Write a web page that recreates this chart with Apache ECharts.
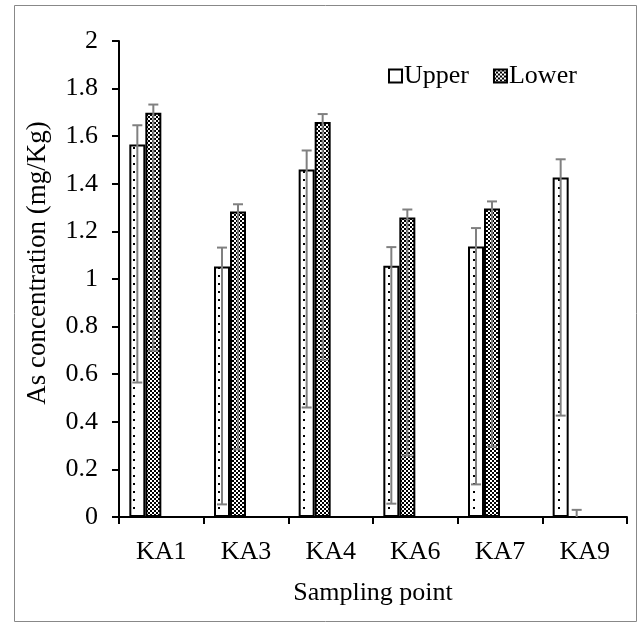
<!DOCTYPE html>
<html>
<head>
<meta charset="utf-8">
<script src="https://cdn.jsdelivr.net/npm/echarts@6/dist/echarts.min.js"></script>
<style>
  html, body { margin: 0; padding: 0; background: #fff; }
  #chart { width: 642px; height: 625px; }
</style>
</head>
<body>
<div id="chart"></div>
<script>
const categories = ['KA1', 'KA3', 'KA4', 'KA6', 'KA7', 'KA9']
const upperValues = [1.565, 1.053, 1.46, 1.056, 1.137, 1.426]
const upperErrHigh = [1.646, 1.132, 1.54, 1.134, 1.214, 1.503]
const upperErrLow = [0.565, 0.053, 0.46, 0.056, 0.137, 0.426]
const lowerValues = [1.699, 1.284, 1.66, 1.258, 1.296, 0]
const lowerErrHigh = [1.733, 1.314, 1.693, 1.292, 1.326, 0.03]
const lowerErrLow = [0.699, 0.284, 0.66, 0.258, 0.296, 0]
const yTickLabels = ['0', '0.2', '0.4', '0.6', '0.8', '1', '1.2', '1.4', '1.6', '1.8', '2']

const FONT = 'Liberation Serif, Times New Roman, serif'
const BAR_W = 16
const ERR_COLOR = '#808080'

// dotted fill (upper) and checker fill (lower)
function makePattern(w, h, draw) {
  const c = document.createElement('canvas')
  c.width = w
  c.height = h
  const ctx = c.getContext('2d')
  ctx.fillStyle = '#fff'
  ctx.fillRect(0, 0, w, h)
  ctx.fillStyle = '#000'
  draw(ctx)
  return { image: c, repeat: 'repeat' }
}
// tile about one category wide so each bar gets a single dot column
const dotFill = makePattern(85, 8, ctx => ctx.fillRect(48, 3, 2, 2))
const checkFill = makePattern(4, 4, ctx => {
  ctx.fillRect(0, 0, 2, 2)
  ctx.fillRect(2, 2, 2, 2)
})

function errData(low, high) {
  return categories.map((c, i) => [i, low[i], high[i]])
}

function errRenderer(offset) {
  return (params, api) => {
    const idx = api.value(0)
    const lo = api.coord([idx, api.value(1)])
    const hi = api.coord([idx, api.value(2)])
    const x = lo[0] + offset
    const style = { stroke: ERR_COLOR, lineWidth: 2 }
    const children = [
      { type: 'line', shape: { x1: x, y1: lo[1], x2: x, y2: hi[1] }, style },
      { type: 'line', shape: { x1: x - 5, y1: hi[1], x2: x + 5, y2: hi[1] }, style }
    ]
    if (api.value(1) > 0) {
      children.push({ type: 'line', shape: { x1: x - 5, y1: lo[1], x2: x + 5, y2: lo[1] }, style })
    }
    return { type: 'group', children }
  }
}

const chart = echarts.init(document.getElementById('chart'), null, { renderer: 'canvas' })

chart.setOption({
  animation: false,
  backgroundColor: '#fff',
  graphic: [{
    type: 'rect',
    shape: { x: 14.5, y: 5.5, width: 622, height: 616 },
    style: { fill: 'none', stroke: '#888', lineWidth: 1 },
    silent: true,
    z: -1
  }],
  grid: {
    left: 119,
    right: 15,
    top: 41,
    bottom: 108,
    containLabel: false
  },
  legend: {
    left: 383,
    top: 58,
    itemWidth: 13,
    itemHeight: 13,
    itemGap: 24,
    icon: 'rect',
    data: ['Upper', 'Lower'],
    textStyle: { fontFamily: FONT, fontSize: 26, color: '#000', padding: [0, 0, 0, -3] }
  },
  xAxis: {
    type: 'category',
    data: categories,
    name: 'Sampling point',
    nameLocation: 'middle',
    nameGap: 63,
    nameTextStyle: { fontFamily: FONT, fontSize: 26, color: '#000' },
    axisLine: { lineStyle: { color: '#000', width: 2 } },
    axisTick: { show: true, length: 7, lineStyle: { color: '#000', width: 2 } },
    axisLabel: { fontFamily: FONT, fontSize: 26, color: '#000', margin: 22 },
    splitLine: { show: false }
  },
  yAxis: {
    type: 'value',
    min: 0,
    max: 2,
    interval: 0.2,
    name: 'As concentration (mg/Kg)',
    nameLocation: 'middle',
    nameGap: 68,
    nameRotate: 90,
    nameTextStyle: { fontFamily: FONT, fontSize: 27, color: '#000', padding: [0, 0, 0, 32] },
    axisLine: { show: true, lineStyle: { color: '#000', width: 2 } },
    axisTick: { show: true, length: 7, lineStyle: { color: '#000', width: 2 } },
    axisLabel: {
      fontFamily: FONT,
      fontSize: 26,
      color: '#000',
      margin: 21,
      formatter: v => yTickLabels[Math.round(v / 0.2)]
    },
    splitLine: { show: false }
  },
  series: [
    {
      name: 'Upper',
      type: 'bar',
      barWidth: BAR_W,
      barGap: '0%',
      data: upperValues,
      itemStyle: { color: dotFill, borderColor: '#000', borderWidth: 2 }
    },
    {
      name: 'Lower',
      type: 'bar',
      barWidth: BAR_W,
      barGap: '0%',
      data: lowerValues,
      itemStyle: { color: checkFill, borderColor: '#000', borderWidth: 2 }
    },
    // two empty slots, Excel leaves room for them
    { name: 'pad1', type: 'bar', barWidth: BAR_W, barGap: '0%', data: [] },
    { name: 'pad2', type: 'bar', barWidth: BAR_W, barGap: '0%', data: [] },
    {
      name: 'Upper err',
      type: 'custom',
      renderItem: errRenderer(-1.5 * BAR_W),
      data: errData(upperErrLow, upperErrHigh),
      z: 5
    },
    {
      name: 'Lower err',
      type: 'custom',
      renderItem: errRenderer(-0.5 * BAR_W),
      data: errData(lowerErrLow, lowerErrHigh),
      z: 5
    }
  ]
})
</script>
</body>
</html>
